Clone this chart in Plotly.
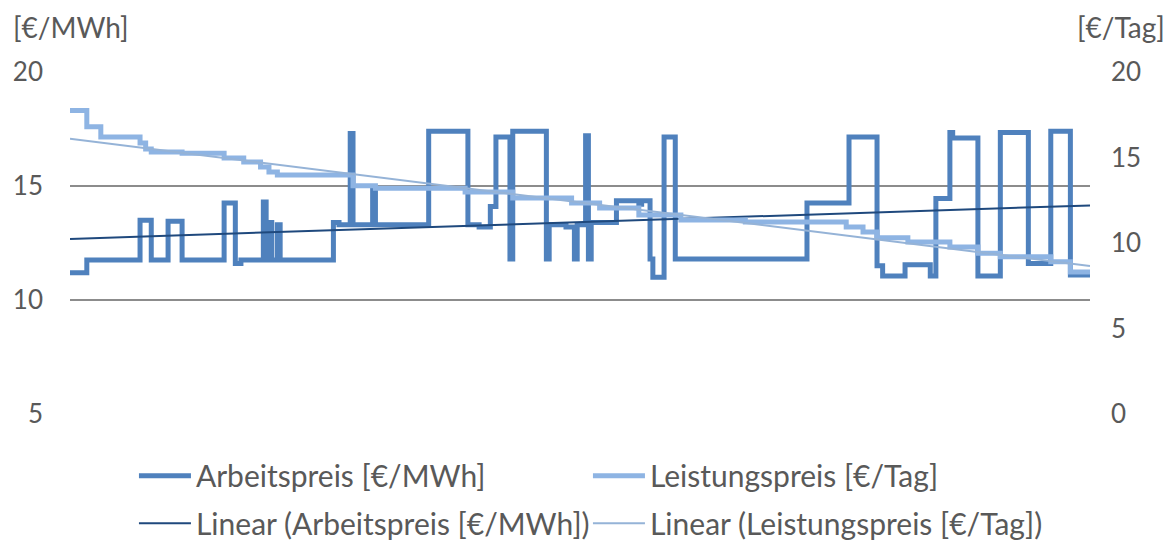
import plotly.graph_objects as go

# Arbeitspreis (€/MWh), step changes: day index -> price
arbeit_days = [0, 6, 25, 29, 35, 40, 55, 59, 61, 69, 70, 71, 72, 74, 75, 94, 96, 100, 101,
               108, 109, 128, 142, 146, 150, 152, 157, 158, 170, 171, 177, 180, 181, 184,
               185, 186, 195, 203, 204, 207, 208, 212, 216, 263, 278, 288, 290, 298, 307,
               309, 314, 315, 324, 332, 342, 350, 357, 364]
arbeit_preis = [11.2, 11.75, 13.5, 11.75, 13.45, 11.75, 14.25, 11.6, 11.75, 14.3, 11.75, 13.4,
                11.75, 13.3, 11.75, 13.4, 13.3, 17.3, 13.3, 14.8, 13.3, 17.4, 13.3, 13.2,
                14.1, 17.15, 11.8, 17.4, 11.8, 13.3, 13.2, 11.8, 13.3, 17.2, 11.8, 13.4,
                14.35, 14.2, 14.35, 11.8, 11.0, 17.15, 11.8, 14.25, 17.15, 11.5, 11.05,
                11.55, 11.05, 14.45, 17.35, 17.1, 11.05, 17.35, 11.6, 17.4, 11.1, 11.1]

# Leistungspreis (€/Tag), step changes: day index -> price
leistung_days = [0, 6, 11, 25, 27, 29, 40, 55, 62, 68, 71, 74, 101, 109, 141, 158, 179, 189,
                 203, 218, 241, 277, 283, 288, 299, 314, 324, 332, 350, 357, 364]
leistung_preis = [17.75, 16.8, 16.2, 15.85, 15.5, 15.32, 15.25, 14.97, 14.74, 14.44, 14.15,
                  13.98, 13.35, 13.2, 12.98, 12.63, 12.34, 12.05, 11.64, 11.35, 11.23, 10.94,
                  10.64, 10.3, 10.06, 9.77, 9.4, 9.2, 8.9, 8.3, 8.3]

# Linear trend lines (start / end of period)
trend_days = [0, 364]
trend_arbeit = [12.68, 14.15]
trend_leistung = [16.1, 8.65]

left_ticks = [5, 10, 15, 20]
right_ticks = [0, 5, 10, 15, 20]

FONT = "Lato"
TEXT = "#595959"

fig = go.Figure()
fig.add_trace(go.Scatter(
    x=arbeit_days, y=arbeit_preis, mode="lines", line_shape="hv",
    name="Arbeitspreis [€/MWh]", line=dict(color="#4F81BD", width=5),
    legend="legend"))
fig.add_trace(go.Scatter(
    x=leistung_days, y=leistung_preis, mode="lines", line_shape="hv", yaxis="y2",
    name="Leistungspreis [€/Tag]", line=dict(color="#8EB4E3", width=5),
    legend="legend"))
fig.add_trace(go.Scatter(
    x=trend_days, y=trend_arbeit, mode="lines",
    name="Linear (Arbeitspreis [€/MWh])", line=dict(color="#1F497D", width=2),
    legend="legend2"))
fig.add_trace(go.Scatter(
    x=trend_days, y=trend_leistung, mode="lines", yaxis="y2",
    name="Linear (Leistungspreis [€/Tag])", line=dict(color="#95B3D7", width=2),
    legend="legend2"))

legend_common = dict(
    orientation="h", xanchor="left", yanchor="middle",
    xref="container", yref="container", x=0.114,
    font=dict(family=FONT, size=30, color=TEXT),
    entrywidth=387, entrywidthmode="pixels",
    bgcolor="rgba(0,0,0,0)", borderwidth=0, itemwidth=52,
)

fig.update_layout(
    width=1175, height=545,
    margin=dict(l=70, r=85, t=72, b=131),
    paper_bgcolor="white", plot_bgcolor="white",
    font=dict(family=FONT, color=TEXT),
    showlegend=True,
    legend=dict(**legend_common, y=0.127),
    legend2=dict(**legend_common, y=0.040),
    xaxis=dict(range=[0, 364], showgrid=False, zeroline=False, showticklabels=False,
               showline=False, ticks=""),
    yaxis=dict(range=[5, 20], tickvals=left_ticks, showgrid=True, gridcolor="#8C8C8C",
               gridwidth=2, zeroline=False, showline=False, ticks="",
               ticklabelstandoff=26, tickfont=dict(family=FONT, size=26, color=TEXT)),
    yaxis2=dict(range=[0, 20], tickvals=right_ticks, overlaying="y", side="right",
                showgrid=False, zeroline=False, showline=False, ticks="",
                ticklabelstandoff=20, tickfont=dict(family=FONT, size=26, color=TEXT)),
    annotations=[
        dict(text="[€/MWh]", xref="paper", yref="paper", x=-0.058, y=1.0,
             xanchor="left", yanchor="bottom", yshift=26, showarrow=False,
             font=dict(family=FONT, size=28, color=TEXT)),
        dict(text="[€/Tag]", xref="paper", yref="paper", x=1.075, y=1.0,
             xanchor="right", yanchor="bottom", yshift=26, showarrow=False,
             font=dict(family=FONT, size=28, color=TEXT)),
    ],
)

fig.write_html("out.html")
